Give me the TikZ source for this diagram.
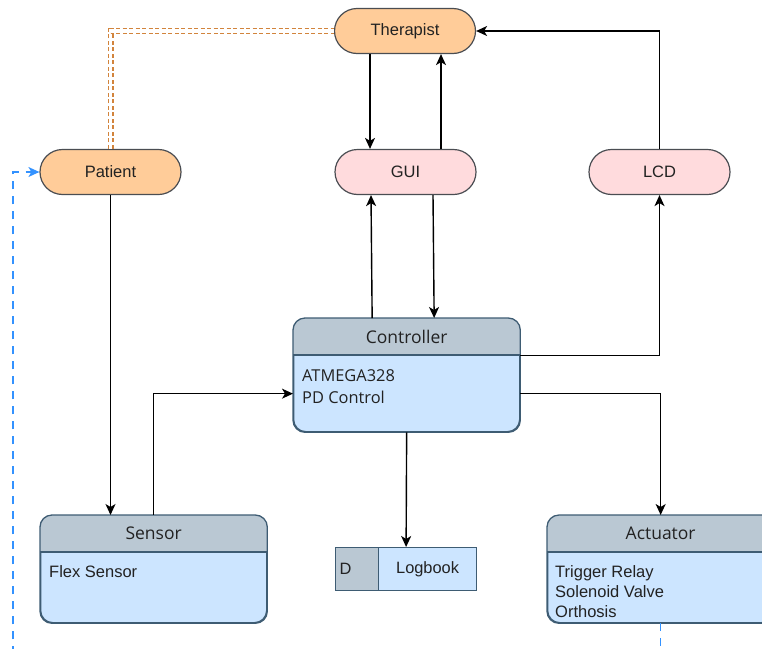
\documentclass[tikz,border=0pt]{standalone}
\usepackage{fontspec}
\setmainfont{Liberation Sans}
\newfontfamily\osans{Open Sans}
\usetikzlibrary{arrows.meta}

\definecolor{pillorange}{HTML}{FFCC99}
\definecolor{pillpink}{HTML}{FFDBDD}
\definecolor{pillline}{HTML}{4A4D52}
\definecolor{hdrfill}{HTML}{BAC8D3}
\definecolor{bodyfill}{HTML}{CCE5FF}
\definecolor{boxline}{HTML}{3E5C73}
\definecolor{txt}{HTML}{222222}
\definecolor{linkorange}{HTML}{D2843C}
\definecolor{linkblue}{HTML}{3392FF}

\tikzset{
  pill/.style={draw=pillline, line width=1.2pt, rectangle, rounded corners=22.5pt,
    minimum width=141pt, minimum height=45pt, inner sep=0pt, text=txt,
    font=\fontsize{16.5}{20}\selectfont},
  container/.style={draw=boxline, fill=bodyfill, line width=1.3pt, rectangle,
    rounded corners=12pt, minimum width=226pt, minimum height=107pt,
    anchor=north west, inner sep=0pt},
  hdrtext/.style={text=txt, inner sep=0pt, font=\osans\fontsize{17.5}{21}\selectfont},
  bodytext/.style={text=txt, inner sep=0pt, align=left, anchor=base west},
  logcell/.style={draw=boxline, line width=1.2pt, rectangle, minimum height=43pt,
    inner sep=0pt, anchor=north west, text=txt, font=\fontsize{16.4}{20}\selectfont},
  tip/.style={-{Stealth[length=11pt,width=10pt,inset=3pt]}},
  arr/.style={draw=black, line width=1.4pt, tip},
}

\begin{document}
\begin{tikzpicture}[x=1pt, y=-1pt]
\useasboundingbox (0,0) rectangle (762,648);
\begin{scope}
\clip (0,0) rectangle (762,648);

% actors and displays
\node[pill, fill=pillorange] (ther) at (405,31) {Therapist};
\node[pill, fill=pillorange] (pat) at (110.5,172) {Patient};
\node[pill, fill=pillpink] (gui) at (405.5,172) {GUI};
\node[pill, fill=pillpink] (lcd) at (659.5,172) {LCD};

% controller container
\node[container, minimum height=113pt] (ctrl) at (293,318) {};
\begin{scope}
  \clip[rounded corners=12pt] (ctrl.north west) rectangle (ctrl.south east);
  \fill[hdrfill] (ctrl.north west) rectangle ([yshift=-37pt]ctrl.north east);
\end{scope}
\draw[boxline, line width=1.3pt] ([yshift=-37pt]ctrl.north west) -- ([yshift=-37pt]ctrl.north east);
\draw[boxline, line width=1.3pt, rounded corners=12pt] (ctrl.north west) rectangle (ctrl.south east);
\node[hdrtext] (ctrlT) at ([yshift=-18.5pt]ctrl.north) {Controller};
% multi-line nodes: the base anchor sits on the last line
\node[bodytext, font=\osans\fontsize{16.4}{22.5}\selectfont] (ctrlB) at (302,403.5) {ATMEGA328\\PD Control};

% sensor container
\node[container] (sens) at (40,515) {};
\begin{scope}
  \clip[rounded corners=12pt] (sens.north west) rectangle (sens.south east);
  \fill[hdrfill] (sens.north west) rectangle ([yshift=-37pt]sens.north east);
\end{scope}
\draw[boxline, line width=1.3pt] ([yshift=-37pt]sens.north west) -- ([yshift=-37pt]sens.north east);
\draw[boxline, line width=1.3pt, rounded corners=12pt] (sens.north west) rectangle (sens.south east);
\node[hdrtext] (sensT) at ([yshift=-18.5pt]sens.north) {Sensor};
\node[bodytext, font=\fontsize{16.5}{20}\selectfont] (sensB) at (49,577) {Flex Sensor};

% actuator container
\node[container] (act) at (547,515) {};
\begin{scope}
  \clip[rounded corners=12pt] (act.north west) rectangle (act.south east);
  \fill[hdrfill] (act.north west) rectangle ([yshift=-37pt]act.north east);
\end{scope}
\draw[boxline, line width=1.3pt] ([yshift=-37pt]act.north west) -- ([yshift=-37pt]act.north east);
\draw[boxline, line width=1.3pt, rounded corners=12pt] (act.north west) rectangle (act.south east);
\node[hdrtext] (actT) at ([yshift=-18.5pt]act.north) {Actuator};
\node[bodytext, font=\fontsize{16.5}{20}\selectfont] (actB) at (555,617) {Trigger Relay\\Solenoid Valve\\Orthosis};

% logbook data store
\node[logcell, fill=hdrfill, minimum width=43pt, text width=35pt, align=left] (logD) at (335,547) {D};
\node[logcell, fill=bodyfill, minimum width=98pt] (logL) at (378,547) {Logbook};

% connectors
\draw[arr] ([xshift=-35pt]ther.south) -- ([xshift=-35.5pt]gui.north);
\draw[arr] ([xshift=35.5pt]gui.north) -- ([xshift=36pt]ther.south);
\draw[arr] (lcd.north) |- (ther.east);
\draw[arr] ([xshift=-34.5pt]ctrl.north) -- ([xshift=-34.5pt]gui.south);
\draw[arr] ([xshift=27.5pt]gui.south) -- ([xshift=27.5pt]ctrl.north);
\draw[arr] ([yshift=19.5pt]ctrl.east) -| (lcd.south);
\draw[arr] ([yshift=-18.5pt]ctrl.east) -| (act.north);
\draw[arr] (ctrl.south) -- ([xshift=-21.5pt]logL.north);
\draw[arr] (pat.south) -- (pat.south |- sens.north);
\draw[arr] (sens.north) |- ([yshift=-18.5pt]ctrl.west);

% therapist-patient relation
\draw[linkorange, line width=1.2pt, double=white, double distance=3.6pt,
      dash pattern=on 4pt off 2.5pt] (pat.north) |- (ther.west);

% feedback from actuator back to patient
\coordinate (loopcorner) at (13,690);
\draw[linkblue, line width=1.3pt, dash pattern=on 8pt off 7pt, tip]
      (act.south) |- (loopcorner) |- (pat.west);
\end{scope}
\end{tikzpicture}
\end{document}
